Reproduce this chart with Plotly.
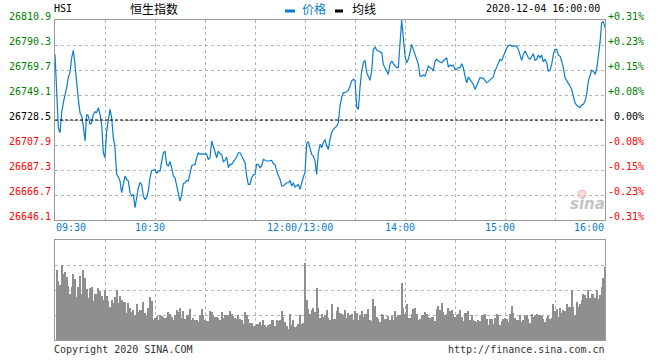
import plotly.graph_objects as go

prev_close = 26728.5
y_min, y_max = 26646.1, 26810.9

# minutes since 09:30 on the trading clock (lunch break removed), one point per minute
price_minutes = list(range(0, 331))
price_values = [
    26782.6, 26749.6, 26722.1, 26718.0, 26734.5, 26742.8, 26748.2, 26755.1, 26763.9, 26767.5,
    26779.8, 26785.9, 26773.8, 26757.9, 26745.5, 26734.5, 26731.8, 26723.5, 26711.2, 26733.1,
    26731.8, 26724.9, 26726.3, 26733.1, 26735.3, 26734.5, 26738.6, 26733.1, 26724.9, 26701.5,
    26697.4, 26719.4, 26727.6, 26737.3, 26730.4, 26713.9, 26705.7, 26683.7, 26681.5, 26678.2,
    26668.6, 26676.8, 26682.3, 26679.6, 26678.2, 26668.6, 26665.8, 26667.2, 26656.2, 26664.5,
    26672.7, 26676.8, 26675.4, 26665.8, 26663.1, 26664.5, 26670.0, 26680.9, 26687.0, 26687.0,
    26687.8, 26684.5, 26686.4, 26686.4, 26693.3, 26701.5, 26702.9, 26691.9, 26690.6, 26694.1,
    26689.2, 26682.3, 26680.9, 26674.1, 26665.8, 26661.7, 26667.2, 26676.0, 26676.8, 26678.7,
    26678.2, 26685.9, 26690.6, 26691.4, 26691.9, 26697.4, 26701.5, 26700.2, 26700.7, 26700.2,
    26700.7, 26700.2, 26696.1, 26697.4, 26711.2, 26707.0, 26701.5, 26697.4, 26702.9, 26700.7,
    26700.2, 26694.1, 26695.2, 26698.0, 26689.2, 26691.9, 26691.9, 26694.1, 26696.1, 26698.0,
    26701.5, 26701.5, 26698.8, 26696.1, 26693.3, 26682.3, 26675.4, 26675.4, 26680.9, 26683.1,
    26683.7, 26691.9, 26691.9, 26689.2, 26690.6, 26696.1, 26695.2, 26694.7, 26694.7, 26694.7,
    26695.2, 26692.5, 26691.9, 26686.4, 26683.1, 26679.6, 26674.1, 26674.1, 26675.4, 26676.8,
    26676.8, 26678.7, 26674.1, 26676.8, 26673.3, 26674.1, 26675.4, 26671.3, 26676.8, 26681.5,
    26685.1, 26709.0, 26710.6, 26705.1, 26700.2, 26698.8, 26694.7, 26683.7, 26701.5, 26708.4,
    26705.7, 26709.8, 26712.5, 26707.0, 26704.3, 26712.5, 26718.0, 26720.8, 26722.1, 26723.5,
    26726.3, 26740.0, 26746.9, 26751.0, 26751.0, 26751.8, 26752.9, 26756.5, 26760.6, 26762.0,
    26761.2, 26739.2, 26737.3, 26755.1, 26768.8, 26775.7, 26777.6, 26767.5, 26763.4, 26761.2,
    26768.8, 26786.7, 26788.6, 26786.2, 26785.3, 26784.8, 26784.0, 26774.3, 26771.6, 26768.8,
    26766.1, 26774.3, 26777.1, 26774.9, 26773.0, 26771.6, 26771.6, 26788.1, 26810.9, 26796.3,
    26781.2, 26775.7, 26778.5, 26784.0, 26790.8, 26786.7, 26782.0, 26778.5, 26774.3, 26764.7,
    26764.7, 26765.6, 26764.7, 26768.8, 26773.0, 26771.6, 26771.0, 26768.8, 26777.1, 26778.5,
    26777.1, 26776.3, 26775.7, 26777.1, 26778.5, 26779.8, 26772.1, 26773.8, 26773.0, 26773.8,
    26770.2, 26770.2, 26771.6, 26771.6, 26774.9, 26771.6, 26764.7, 26759.2, 26763.9, 26762.0,
    26760.6, 26757.9, 26753.7, 26757.9, 26760.1, 26763.4, 26762.8, 26762.8, 26761.2, 26759.2,
    26760.1, 26761.2, 26762.8, 26763.9, 26768.8, 26771.6, 26774.9, 26778.5, 26777.6, 26781.2,
    26785.3, 26787.5, 26789.7, 26790.3, 26789.4, 26789.4, 26789.4, 26789.4, 26786.7, 26781.2,
    26777.6, 26782.6, 26785.3, 26782.6, 26779.8, 26778.5, 26780.4, 26783.1, 26777.6, 26778.5,
    26782.0, 26779.8, 26782.0, 26776.5, 26778.5, 26775.7, 26768.8, 26769.4, 26774.3, 26782.6,
    26786.7, 26786.7, 26782.0, 26781.2, 26777.1, 26771.6, 26763.4, 26760.6, 26758.7, 26756.5,
    26753.7, 26748.2, 26742.8, 26740.6, 26739.5, 26738.6, 26740.8, 26741.4, 26744.1, 26749.6,
    26760.6, 26766.1, 26769.4, 26768.8, 26766.1, 26770.2, 26781.2, 26792.2, 26808.7, 26809.5,
    26804.6,
]

vol_minutes = list(range(1, 331))
vol_values = [
    211, 178, 166, 224, 198, 204, 188, 163, 138, 158,
    198, 184, 129, 159, 193, 138, 210, 186, 153, 126,
    156, 159, 118, 138, 138, 156, 146, 131, 121, 149,
    131, 118, 99, 120, 111, 129, 149, 111, 131, 121,
    114, 114, 81, 111, 96, 84, 91, 74, 108, 84,
    91, 91, 114, 81, 74, 96, 129, 118, 61, 66,
    71, 61, 74, 71, 68, 66, 69, 84, 78, 68,
    61, 74, 89, 84, 96, 66, 86, 63, 76, 74,
    93, 61, 66, 61, 61, 54, 74, 93, 74, 61,
    58, 58, 86, 84, 74, 69, 68, 66, 61, 84,
    66, 74, 74, 74, 86, 78, 71, 66, 63, 74,
    63, 59, 48, 84, 76, 63, 51, 51, 41, 41,
    48, 48, 54, 44, 60, 46, 39, 44, 48, 60,
    60, 42, 59, 56, 59, 86, 68, 54, 41, 33,
    78, 44, 59, 38, 41, 48, 76, 48, 51, 231,
    121, 93, 78, 91, 96, 84, 156, 96, 66, 78,
    68, 74, 91, 66, 60, 109, 63, 63, 88, 99,
    81, 78, 74, 91, 66, 81, 76, 78, 60, 88,
    81, 60, 74, 88, 69, 78, 78, 93, 60, 56,
    123, 101, 69, 63, 54, 78, 74, 63, 63, 71,
    59, 71, 60, 88, 68, 74, 74, 171, 96, 78,
    108, 66, 66, 78, 93, 96, 78, 61, 63, 74,
    74, 84, 78, 69, 66, 68, 68, 58, 93, 101,
    90, 111, 84, 74, 78, 96, 88, 90, 78, 68,
    74, 78, 90, 69, 58, 81, 81, 86, 60, 74,
    60, 56, 54, 59, 56, 74, 74, 78, 63, 44,
    63, 63, 48, 66, 78, 76, 46, 56, 63, 66,
    63, 54, 78, 101, 81, 66, 60, 60, 74, 54,
    60, 71, 74, 63, 51, 78, 68, 74, 78, 74,
    74, 71, 63, 54, 66, 71, 63, 66, 108, 88,
    93, 69, 96, 81, 90, 88, 108, 98, 98, 149,
    98, 74, 114, 98, 108, 120, 138, 134, 126, 149,
    126, 138, 138, 126, 149, 124, 134, 158, 186, 219,
]

left_tick_values = [26810.9, 26790.3, 26769.7, 26749.1, 26728.5, 26707.9, 26687.3, 26666.7, 26646.1]
left_tick_labels = ["26810.9", "26790.3", "26769.7", "26749.1", "26728.5",
                    "26707.9", "26687.3", "26666.7", "26646.1"]
right_tick_labels = ["+0.31%", "+0.23%", "+0.15%", "+0.08%", "0.00%",
                     "-0.08%", "-0.15%", "-0.23%", "-0.31%"]
time_tick_minutes = [0, 60, 150, 210, 270, 330]
time_tick_labels = ["09:30", "10:30", "12:00/13:00", "14:00", "15:00", "16:00"]
vol_grid_values = [75, 150, 225]

BLUE = "#0a7ccf"
GREEN = "#008000"
RED = "#ff0000"
GRID = "#b4b4b4"
BORDER = "#9a9a9a"
MONO = "DejaVu Sans Mono"
CJK = "Noto Sans CJK SC"

fig = go.Figure()
fig.add_trace(go.Scatter(x=price_minutes, y=price_values, mode="lines",
                         line=dict(color=BLUE, width=1.2), xaxis="x", yaxis="y",
                         hoverinfo="skip"))
fig.add_trace(go.Bar(x=vol_minutes, y=vol_values, width=0.5,
                     marker=dict(color="#8f8f8f", line=dict(width=0)),
                     xaxis="x2", yaxis="y2", hoverinfo="skip"))

axis_common = dict(showgrid=True, gridcolor=GRID, griddash="dot", gridwidth=1,
                   showline=True, mirror=True, linecolor=BORDER, linewidth=1,
                   zeroline=False, showticklabels=False, ticks="", fixedrange=True)

fig.update_layout(
    width=660, height=360,
    margin=dict(l=55, r=55, t=20, b=20),
    paper_bgcolor="white", plot_bgcolor="white",
    showlegend=False, bargap=0,
    xaxis=dict(domain=[0, 1], range=[0, 330], tickvals=list(range(0, 331, 30)),
               anchor="y", **axis_common),
    yaxis=dict(domain=[0.375, 1], range=[y_min, y_max], tickvals=left_tick_values,
               anchor="x", **axis_common),
    xaxis2=dict(domain=[0, 1], range=[0, 330], tickvals=list(range(0, 331, 30)),
                anchor="y2", **axis_common),
    yaxis2=dict(domain=[0, 0.3125], range=[0, 300], tickvals=vol_grid_values,
                anchor="x2", **axis_common),
)

# previous close dashed line
fig.add_shape(type="line", xref="x", yref="y", x0=0, x1=330, y0=prev_close, y1=prev_close,
              line=dict(color="black", width=1, dash="3px,2px"))

ann = []
for i, (v, t, rt) in enumerate(zip(left_tick_values, left_tick_labels, right_tick_labels)):
    col = GREEN if i < 4 else ("black" if i == 4 else RED)
    ann.append(dict(x=0, xref="paper", xanchor="right", xshift=-2, y=v, yref="y",
                    yanchor="middle", yshift=4, text=t, showarrow=False,
                    font=dict(family=MONO, size=10, color=col)))
    ann.append(dict(x=1, xref="paper", xanchor="left", xshift=(7 if i == 4 else 1), y=v, yref="y",
                    yanchor="middle", yshift=4, text=rt, showarrow=False,
                    font=dict(family=MONO, size=10, color=col)))

for m, t in zip(time_tick_minutes, time_tick_labels):
    if m == 0:
        xa, xs = "left", -1
    elif m == 330:
        xa, xs = "right", 1
    else:
        xa, xs = "center", -5.5
    ann.append(dict(x=m, xref="x", xanchor=xa, xshift=xs, y=(340 - 227) / 320, yref="paper",
                    yanchor="middle", text=t, showarrow=False,
                    font=dict(family=MONO, size=10, color=BLUE)))

def px(xp):
    return (xp - 55) / 550

def py(yp):
    return (340 - yp) / 320

header_y = py(9)
ann += [
    dict(x=0, xref="paper", xanchor="left", xshift=-3, y=header_y, yref="paper", yanchor="middle",
         text="HSI", showarrow=False, font=dict(family=MONO, size=10, color="black")),
    dict(x=px(154), xref="paper", xanchor="center", y=header_y, yref="paper", yanchor="middle",
         text="恒生指数", showarrow=False, font=dict(family=CJK, size=12, color="black")),
    dict(x=px(300), xref="paper", xanchor="left", y=header_y, yref="paper", yanchor="middle",
         text="价格", showarrow=False, font=dict(family=CJK, size=12, color=BLUE)),
    dict(x=px(350), xref="paper", xanchor="left", y=header_y, yref="paper", yanchor="middle",
         text="均线", showarrow=False, font=dict(family=CJK, size=12, color="black")),
    dict(x=px(602), xref="paper", xanchor="right", y=header_y, yref="paper", yanchor="middle",
         text="2020-12-04 16:00:00", showarrow=False, font=dict(family=MONO, size=10, color="black")),
    dict(x=0, xref="paper", xanchor="left", xshift=-3, y=py(349), yref="paper", yanchor="middle",
         text="Copyright 2020 SINA.COM", showarrow=False, font=dict(family=MONO, size=10, color="#333333")),
    dict(x=1, xref="paper", xanchor="right", xshift=2, y=py(349), yref="paper", yanchor="middle",
         text="http://finance.sina.com.cn", showarrow=False, font=dict(family=MONO, size=10, color="#333333")),
    dict(x=px(587), xref="paper", xanchor="center", y=py(204), yref="paper", yanchor="middle",
         text="<b><i>sina</i></b>", showarrow=False, font=dict(family="DejaVu Sans", size=15, color="#c4c4c4")),
]
fig.update_layout(annotations=ann)

# legend swatches and watermark eye
fig.add_shape(type="line", xref="paper", yref="paper", x0=px(285), x1=px(295), y0=py(11), y1=py(11),
              line=dict(color=BLUE, width=3))
fig.add_shape(type="line", xref="paper", yref="paper", x0=px(335), x1=px(343), y0=py(11), y1=py(11),
              line=dict(color="black", width=3))
fig.add_shape(type="circle", xref="paper", yref="paper", x0=px(578), x1=px(586), y0=py(198), y1=py(190),
              line=dict(color="#f4b8b8", width=1), fillcolor="rgba(244,184,184,0.5)")

fig.write_html("out.html", config={"displayModeBar": False},
               post_script="document.body.style.margin='0';document.body.style.padding='0';")
